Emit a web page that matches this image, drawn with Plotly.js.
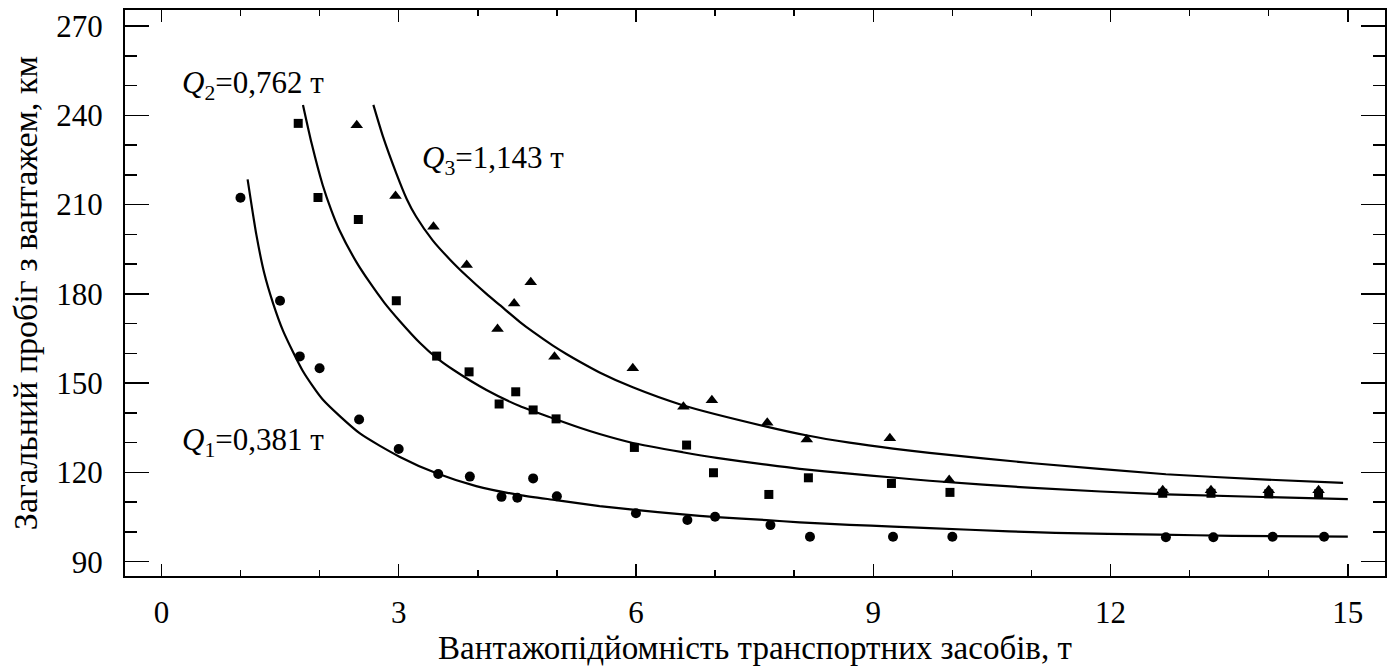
<!DOCTYPE html>
<html>
<head>
<meta charset="utf-8">
<script src="https://cdn.plot.ly/plotly-3.0.1.min.js"></script>
<style>html,body{margin:0;padding:0;background:#fff;}#chart{width:1397px;height:671px;}</style>
</head>
<body>
<div id="chart"></div>
<script>
// Observed points
var q1X = [1.0, 1.5, 1.75, 2.0, 2.5, 3.0, 3.5, 3.9, 4.3, 4.5, 4.7, 5.0, 6.0, 6.65, 7.0, 7.7, 8.2, 9.25, 10.0, 12.7, 13.3, 14.05, 14.7];
var q1Y = [212.3, 177.7, 159, 155, 137.8, 127.9, 119.5, 118.6, 111.8, 111.5, 118, 112, 106.3, 104, 105.1, 102.3, 98.4, 98.4, 98.4, 98.2, 98.2, 98.4, 98.4];

var q2X = [1.73, 1.98, 2.49, 2.97, 3.48, 3.89, 4.27, 4.48, 4.7, 4.99, 5.98, 6.64, 6.98, 7.68, 8.18, 9.23, 9.97, 12.66, 13.27, 14.0, 14.63];
var q2Y = [237.3, 212.4, 205, 177.7, 159.1, 153.8, 143, 147.1, 141, 138, 128.4, 129.2, 119.9, 112.6, 118.2, 116.3, 113.3, 113, 113, 112.8, 112.8];

var q3X = [2.47, 2.96, 3.44, 3.86, 4.25, 4.46, 4.67, 4.97, 5.96, 6.6, 6.96, 7.66, 8.16, 9.21, 9.96, 12.66, 13.27, 14.0, 14.63];
var q3Y = [236.7, 212.9, 202.6, 189.7, 168.2, 176.8, 183.9, 158.9, 155, 142.1, 144.3, 136.7, 131.1, 131.5, 117.5, 114, 114, 114, 114];

// Fitted curves
var c1X = [1.09, 1.2, 1.3, 1.41, 1.54, 1.79, 2.04, 2.51, 3.01, 3.48, 3.98, 4.53, 4.99, 5.54, 5.96, 6.59, 7.02, 7.65, 8.07, 8.7, 9.25, 9.71, 10.72, 11.3, 12.62, 13.54, 15.0];
var c1Y = [218.5, 200, 187, 177, 167.5, 154, 144.5, 133.1, 125.3, 119.7, 115.4, 112.4, 110.7, 108.7, 107.5, 105.9, 105, 104, 103.2, 102.4, 101.8, 101.3, 100.2, 99.7, 99.1, 98.7, 98.4];

var c2X = [1.79, 1.9, 2.04, 2.15, 2.25, 2.47, 2.63, 2.82, 3.01, 3.27, 3.48, 3.69, 4.11, 4.53, 4.95, 5.29, 5.54, 5.96, 6.59, 7.02, 7.65, 8.07, 8.7, 9.25, 9.71, 11.02, 12.7, 15.0];
var c2Y = [243.5, 230.5, 216.5, 208, 201.5, 190.5, 184, 177, 171, 163.5, 158.5, 154.5, 147.7, 142.3, 138.2, 135, 132.9, 129.9, 126.8, 124.9, 122.6, 121.2, 119.6, 118.3, 117.2, 114.8, 112.6, 111];

var c3X = [2.68, 2.8, 2.97, 3.1, 3.22, 3.43, 3.65, 3.86, 4.11, 4.28, 4.53, 4.7, 4.95, 5.12, 5.29, 5.54, 5.96, 6.59, 7.65, 8.15, 8.7, 9.25, 9.71, 11.02, 12.7, 13.97, 14.94];
var c3Y = [243.5, 233, 220.5, 212, 206, 198, 191.5, 186, 180, 176.2, 170.6, 167.2, 162.6, 159.8, 157.2, 153.6, 148.6, 142.6, 135.4, 132.5, 130, 128, 126.6, 123.1, 119.4, 117.6, 116.5];

var labels = [
  {text: '<i>Q</i><sub>2</sub>=0,762 т', x: 0.23, y: 250.2},
  {text: '<i>Q</i><sub>3</sub>=1,143 т', x: 3.27, y: 225},
  {text: '<i>Q</i><sub>1</sub>=0,381 т', x: 0.23, y: 130.2}
];

var FONT = 'Liberation Serif, Times New Roman, serif';

function curve(x, y) {
  return {x: x, y: y, mode: 'lines', type: 'scatter', hoverinfo: 'skip',
          line: {color: '#000', width: 2.2, shape: 'spline', smoothing: 0.6}, showlegend: false};
}
function pts(x, y, sym, size) {
  return {x: x, y: y, mode: 'markers', type: 'scatter',
          marker: {symbol: sym, size: size, color: '#000', line: {width: 0}}, showlegend: false};
}

var data = [
  curve(c1X, c1Y), curve(c2X, c2Y), curve(c3X, c3Y),
  pts(q1X, q1Y, 'circle', 10),
  pts(q2X, q2Y, 'square', 9),
  pts(q3X, q3Y, 'triangle-up', 11)
];

var layout = {
  width: 1397, height: 671,
  margin: {l: 125, r: 12, t: 10, b: 95},
  paper_bgcolor: '#fff', plot_bgcolor: '#fff',
  font: {family: FONT, color: '#000', size: 31},
  xaxis: {
    range: [-0.46, 15.47], tickmode: 'array', tickvals: [0, 3, 6, 9, 12, 15],
    ticktext: ['0', '3', '6', '9', '12', '15'],
    ticks: 'inside', ticklen: 12, tickwidth: 1.5, tickcolor: '#000',
    minor: {tickvals: [1, 2, 4, 5, 7, 8, 10, 11, 13, 14], ticks: 'inside', ticklen: 6, tickwidth: 1.5, tickcolor: '#000'},
    showgrid: false, zeroline: false, showline: true, linecolor: '#000', linewidth: 2, mirror: 'allticks',
    ticklabelstandoff: 8,
    tickfont: {family: FONT, size: 31},
    title: {text: 'Вантажопідйомність транспортних засобів, т', font: {family: FONT, size: 33}, standoff: 4}
  },
  yaxis: {
    range: [85.2, 275.4], tickmode: 'array', tickvals: [90, 120, 150, 180, 210, 240, 270],
    ticktext: ['90', '120', '150', '180', '210', '240', '270'],
    ticks: 'inside', ticklen: 24, tickwidth: 1.5, tickcolor: '#000',
    minor: {tickvals: [100, 110, 130, 140, 160, 170, 190, 200, 220, 230, 250, 260], ticks: 'inside', ticklen: 12, tickwidth: 1.5, tickcolor: '#000'},
    showgrid: false, zeroline: false, showline: true, linecolor: '#000', linewidth: 2, mirror: 'allticks',
    ticklabelstandoff: 14,
    tickfont: {family: FONT, size: 31},
    title: {text: 'Загальний пробіг з вантажем, км', font: {family: FONT, size: 34}, standoff: 8}
  },
  annotations: labels.map(function (a) {
    return {x: a.x, y: a.y, xref: 'x', yref: 'y', text: a.text, showarrow: false,
            xanchor: 'left', yanchor: 'middle', font: {family: FONT, size: 31, color: '#000'}};
  })
};

Plotly.newPlot('chart', data, layout, {displayModeBar: false, staticPlot: true});
</script>
</body>
</html>
